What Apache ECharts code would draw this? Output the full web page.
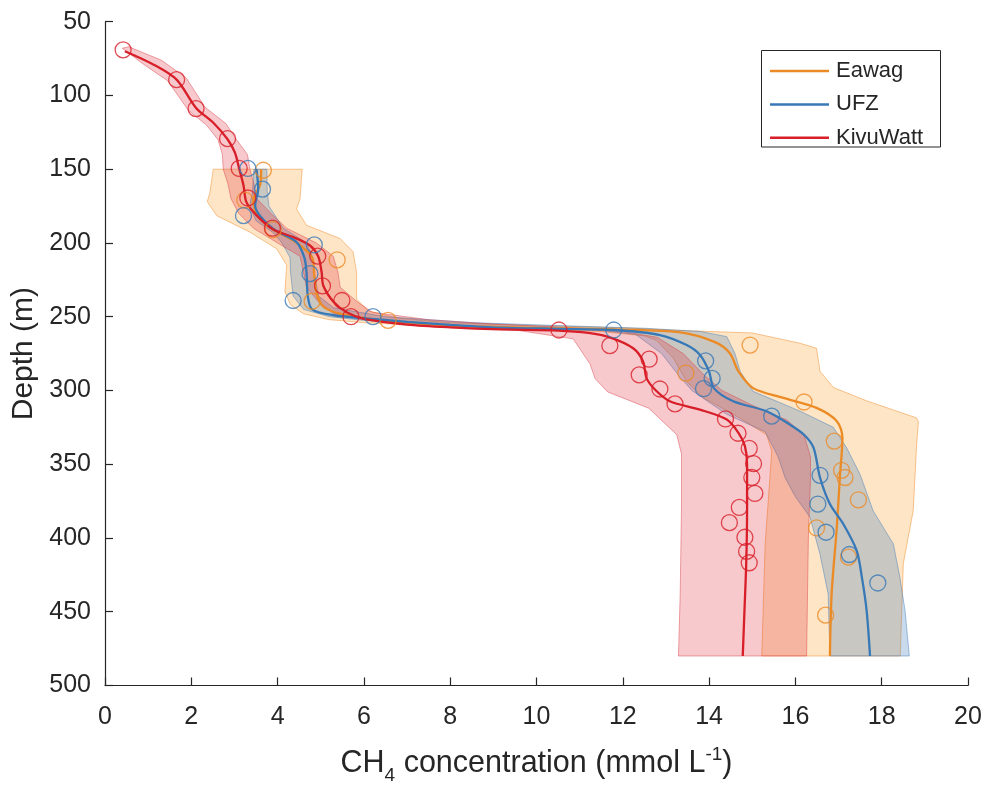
<!DOCTYPE html>
<html>
<head>
<meta charset="utf-8">
<script src="https://cdn.jsdelivr.net/npm/echarts@6/dist/echarts.min.js"></script>
<style>
  html, body { margin: 0; padding: 0; background: #fff; }
  #chart { width: 986px; height: 790px; }
</style>
</head>
<body>
<div id="chart"></div>
<script>
// CH4 concentration (mmol/L) vs depth (m) profiles, three laboratories.
const FONT = '"Liberation Sans", Arial, Helvetica, sans-serif';
const TEXT = '#262626';

const labNames = ['Eawag', 'UFZ', 'KivuWatt'];
const labColors = ['#EC8B26', '#3778B7', '#D81E28'];
const bandFills = ['rgba(250,160,50,0.28)', 'rgba(55,120,183,0.27)', 'rgba(220,30,40,0.24)'];
const bandEdges = ['rgba(240,150,60,0.55)', 'rgba(55,120,183,0.45)', 'rgba(215,60,70,0.45)'];

const xTicks = { min: 0, max: 20, step: 2 };
const yTicks = { min: 50, max: 500, step: 50 };

// fitted profiles [concentration, depth]
const eawagLine = [
  [3.62,150],[3.60,160],[3.45,170],[3.50,180],[3.85,190],[4.45,200],[4.80,210],[4.85,222],
  [4.92,236],[5.10,244],[5.60,249],[6.60,253],[8.0,256],[10.0,257.5],[12.0,258.7],[13.3,260.5],
  [14.11,266.9],[14.48,274.7],[14.68,287.1],[15.02,298.4],[15.72,305],[16.49,311.8],[16.96,320.8],
  [17.09,332],[17.03,359],[16.96,392.7],[16.84,437.7],[16.80,480]
];
const ufzLine = [
  [3.51,150],[3.55,163.5],[3.48,174.7],[3.59,181.5],[3.90,190.5],[4.44,199.4],[4.62,210],[4.67,220],
  [4.70,236],[4.80,245],[5.30,249],[6.20,251.5],[7.0,253.5],[8.0,255.5],[9.15,257.4],[10.5,258.2],
  [11.79,259],[12.86,262.4],[13.48,269.2],[13.79,275.9],[14.0,287.2],[14.11,298.4],[14.56,307.3],
  [15.33,314.1],[15.87,323.1],[16.20,330],[16.42,338.8],[16.57,359],[16.80,377],[17.11,390.5],
  [17.42,408.5],[17.54,426.5],[17.65,449],[17.73,480]
];
const kivuLine = [
  [0.46,70],[1.12,79],[1.66,89.3],[2.11,108.5],[2.51,118.5],[2.84,129.7],[3.01,138.7],[3.11,149.7],
  [3.21,161],[3.28,172.5],[3.52,181.5],[3.90,190.9],[4.36,196],[4.75,201.7],[4.94,209],[5.02,219.7],
  [5.06,229],[5.30,240],[5.60,247],[6.0,251.5],[7.0,255.3],[8.0,257.2],[9.15,258.6],[10.5,259.4],
  [11.2,261],[11.7,264],[12.24,271.4],[12.47,280.3],[12.55,291.6],[12.75,299.5],[13.09,307.3],
  [13.79,313],[14.41,319.7],[14.68,328.7],[14.83,337.7],[14.88,350],[14.88,381.5],[14.86,417.5],
  [14.82,449],[14.78,480]
];

// measured samples [concentration, depth]
const eawagObs = [
  [3.67,150.7],[3.24,170.9],[3.90,190.9],[5.38,211.4],[4.80,239.5],[6.56,252.5],[14.95,269.2],
  [13.46,288.2],[16.20,307.8],[16.90,334.3],[17.07,354.1],[17.15,359],[17.46,374.1],[16.49,393.2],
  [17.23,413],[16.70,452.3]
];
const ufzObs = [
  [3.31,149.5],[3.65,163.5],[3.21,181.5],[4.85,201.3],[4.75,220.8],[4.36,239],[6.21,250],
  [11.79,259],[13.92,279.9],[14.07,291.8],[13.87,298.8],[15.45,317.4],[16.57,357.5],[16.52,377],
  [16.71,396.1],[17.25,411.2],[17.91,430.5]
];
const kivuObs = [
  [0.42,69.1],[1.66,89.3],[2.11,108.9],[2.84,129.3],[3.11,149.5],[3.31,169.5],[3.88,190],
  [4.93,208.9],[5.04,229.1],[5.49,239],[5.70,250],[10.52,259],[11.70,269.6],[12.61,278.8],
  [12.38,289.4],[12.86,299],[13.21,309.1],[14.38,319.3],[14.67,329],[14.93,339.3],[15.03,349.6],
  [14.99,359],[15.06,369.8],[14.70,379.3],[14.47,389.6],[14.83,399.5],[14.87,409.1],[14.93,416.8]
];

// uncertainty envelopes: low-concentration edge and high-concentration edge, top to bottom
const eawagBandLow = [
  [2.51,150],[2.43,166],[2.37,172],[2.59,181.5],[3.36,192.7],[3.98,204],[4.21,215],[4.17,233],
  [4.30,242],[4.60,248],[5.20,252],[6.0,254],[7.0,255.5],[8.5,257],[10.0,258.5],[11.5,260],
  [12.5,263],[12.78,266],[13.17,278],[13.48,294],[13.87,305],[14.56,316],[15.33,330],[15.45,341],
  [15.41,359],[15.30,404],[15.22,480]
];
const eawagBandHigh = [
  [4.57,150],[4.52,170],[4.44,177],[4.67,188],[5.45,197],[5.75,206],[5.83,220],[5.83,238],
  [6.10,246],[6.80,251],[8.0,254],[10.0,256],[12.0,257.5],[13.5,259.5],[15.0,261],[16.11,268],
  [16.49,271.4],[16.57,287],[16.88,298],[17.65,307],[18.81,318.6],[18.85,321],[18.81,336.6],
  [18.73,381.5],[18.50,417.5],[18.43,480]
];
const ufzBandLow = [
  [3.45,150],[3.42,165],[3.35,175],[3.50,185],[3.90,193],[4.10,200],[4.29,210],[4.30,220],
  [4.36,236],[4.60,245],[5.20,250],[6.5,254],[8.0,256.2],[10.0,257.8],[11.5,259.3],[12.3,262],
  [12.9,275],[13.3,290],[13.6,300],[14.4,316],[15.3,328],[15.6,345],[15.76,359],[16.0,372],
  [16.34,386],[16.57,411],[16.76,438],[16.80,480]
];
const ufzBandHigh = [
  [3.75,150],[3.76,165],[3.80,175],[4.13,190],[4.67,200],[4.82,210],[4.85,220],[4.95,236],
  [5.30,244],[6.5,250],[8.5,254],[10.5,256],[12.5,257.8],[13.8,260],[14.41,263.5],[14.6,275],
  [14.72,287],[15.02,300.6],[16.11,314],[16.88,325],[17.19,339],[17.5,357],[17.8,381.5],
  [18.27,404],[18.42,426.5],[18.54,449],[18.64,480]
];
const kivuBandLow = [
  [0.40,68],[0.90,79],[1.45,90],[1.93,110],[2.35,120],[2.62,130],[2.72,140],[2.74,150],
  [2.85,160],[2.92,170],[3.10,180],[3.44,190],[4.00,200],[4.52,209],[4.60,220],[4.67,230],
  [4.95,240],[5.30,248],[6.0,252],[7.5,255],[9.5,259],[10.85,265],[11.24,282],[11.36,292],
  [11.65,301],[12.6,312],[13.25,330],[13.36,343],[13.36,380],[13.33,438],[13.29,480]
];
const kivuBandHigh = [
  [0.55,67],[1.30,76],[1.88,88],[2.32,108],[2.80,119],[3.05,130],[3.30,140],[3.36,150],
  [3.45,160],[3.52,170],[3.85,180],[4.21,190],[4.90,200],[5.29,209],[5.40,220],[5.45,230],
  [5.85,240],[6.20,247],[7.5,252],[9.0,255],[10.5,257],[11.5,258.5],[12.0,260],[12.8,264],
  [13.4,275],[13.9,290],[14.3,300],[15.0,310],[15.8,320],[16.2,330],[16.35,345],[16.35,360],
  [16.30,400],[16.26,480]
];

const bands = [
  [eawagBandLow, eawagBandHigh],
  [ufzBandLow, ufzBandHigh],
  [kivuBandLow, kivuBandHigh]
];
const lines = [eawagLine, ufzLine, kivuLine];
const samples = [eawagObs, ufzObs, kivuObs];

function bandSeries(i) {
  const low = bands[i][0], high = bands[i][1];
  const outline = low.concat(high.slice().reverse());
  return {
    type: 'custom',
    name: labNames[i] + ' range',
    coordinateSystem: 'cartesian2d',
    silent: true,
    z: 1 + i,
    data: [outline[0]],
    renderItem: function (params, api) {
      return {
        type: 'polygon',
        shape: { points: outline.map(function (p) { return api.coord(p); }) },
        style: { fill: bandFills[i], stroke: bandEdges[i], lineWidth: 1 }
      };
    }
  };
}

const series = [];
for (let i = 0; i < 3; i++) series.push(bandSeries(i));
for (let i = 0; i < 3; i++) {
  series.push({
    type: 'line',
    name: labNames[i],
    data: lines[i],
    symbol: 'none',
    smooth: 0.3,
    z: 10 + i,
    lineStyle: { color: labColors[i], width: 2.3 },
    itemStyle: { color: labColors[i] }
  });
}
for (let i = 0; i < 3; i++) {
  series.push({
    type: 'scatter',
    name: labNames[i] + ' samples',
    data: samples[i],
    symbol: 'circle',
    symbolSize: 16,
    z: 20 + i,
    itemStyle: { color: 'rgba(0,0,0,0)', borderColor: labColors[i], borderWidth: 1.3 }
  });
}

const chart = echarts.init(document.getElementById('chart'), null, { renderer: 'canvas' });
chart.setOption({
  animation: false,
  backgroundColor: '#fff',
  textStyle: { fontFamily: FONT, color: TEXT },
  grid: { left: 105, right: 18, top: 21.7, bottom: 101, containLabel: false },
  legend: {
    data: labNames.map(function (n) { return { name: n, icon: 'rect' }; }),
    orient: 'vertical',
    left: 770,
    top: 60,
    padding: 0,
    itemWidth: 59,
    itemHeight: 2.5,
    itemGap: 11.4,
    selectedMode: false,
    textStyle: { fontFamily: FONT, fontSize: 22, lineHeight: 20, color: TEXT, padding: [0, 0, 0, 2] }
  },
  graphic: [{
    type: 'rect',
    shape: { x: 761.5, y: 50.5, width: 179, height: 96.5 },
    style: { fill: 'rgba(0,0,0,0)', stroke: TEXT, lineWidth: 1 },
    z: 100, silent: true
  }],
  xAxis: {
    type: 'value',
    min: xTicks.min, max: xTicks.max, interval: xTicks.step,
    axisLine: { show: true, onZero: false, lineStyle: { color: TEXT, width: 1.2 } },
    axisTick: { show: true, inside: true, length: 8, lineStyle: { color: TEXT, width: 1.2 } },
    axisLabel: { fontSize: 25, color: TEXT, margin: 19, fontFamily: FONT },
    splitLine: { show: false },
    name: '{m|CH}{s|4}{m| concentration (mmol L}{p|-1}{m|)}',
    nameLocation: 'middle',
    nameGap: 61,
    nameTextStyle: {
      fontFamily: FONT, color: TEXT,
      rich: {
        m: { fontSize: 30.5, lineHeight: 34, fontFamily: FONT, color: TEXT, verticalAlign: 'middle' },
        s: { fontSize: 19, lineHeight: 18, fontFamily: FONT, color: TEXT, verticalAlign: 'middle', padding: [24, 0, 0, 0] },
        p: { fontSize: 19, lineHeight: 18, fontFamily: FONT, color: TEXT, verticalAlign: 'middle', padding: [0, 0, 18, 0] }
      }
    }
  },
  yAxis: {
    type: 'value',
    inverse: true,
    min: yTicks.min, max: yTicks.max, interval: yTicks.step,
    axisLine: { show: true, onZero: false, lineStyle: { color: TEXT, width: 1.2 } },
    axisTick: { show: true, inside: true, length: 8, lineStyle: { color: TEXT, width: 1.2 } },
    axisLabel: { fontSize: 25, color: TEXT, margin: 14, fontFamily: FONT },
    splitLine: { show: false },
    name: 'Depth (m)',
    nameLocation: 'middle',
    nameGap: 61,
    nameTextStyle: { fontSize: 30, color: TEXT, fontFamily: FONT }
  },
  series: series
});
</script>
</body>
</html>
